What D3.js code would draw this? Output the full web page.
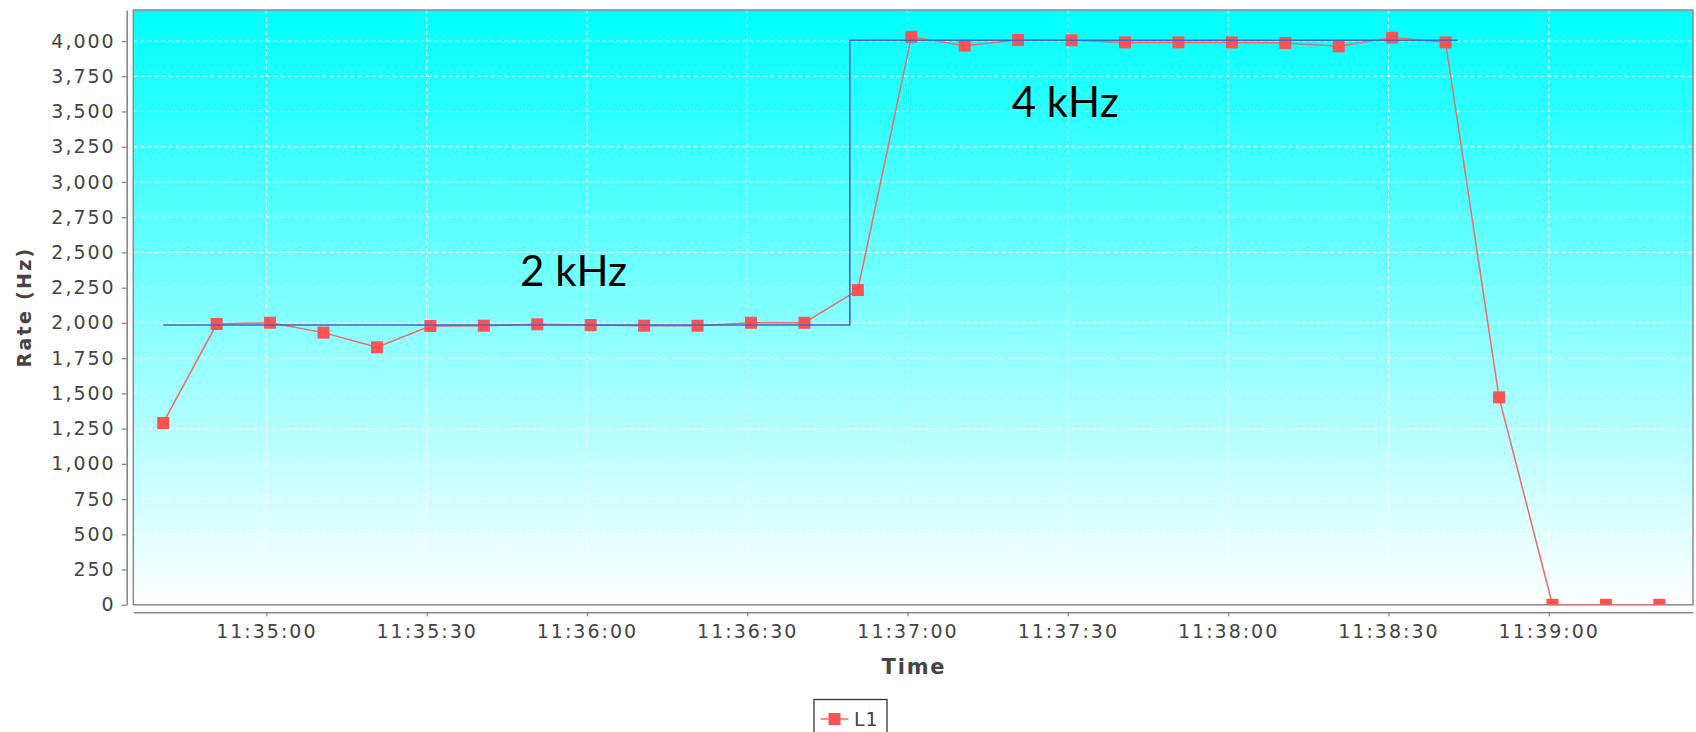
<!DOCTYPE html>
<html>
<head>
<meta charset="utf-8">
<script src="https://cdn.jsdelivr.net/npm/d3@7"></script>
<style>
  html, body { margin: 0; padding: 0; background: #ffffff; }
  svg { display: block; }
  .tick text { font-family: "DejaVu Sans", sans-serif; font-size: 19px; fill: #444; letter-spacing: 2px; }
</style>
</head>
<body>
<svg id="chart" width="1696" height="732"></svg>
<script>
// ---- data ----
const times = ["11:34:40.700","11:34:50.700","11:35:00.700","11:35:10.700","11:35:20.700","11:35:30.700",
  "11:35:40.700","11:35:50.700","11:36:00.700","11:36:10.700","11:36:20.700","11:36:30.700","11:36:40.700",
  "11:36:50.700","11:37:00.700","11:37:10.700","11:37:20.700","11:37:30.700","11:37:40.700","11:37:50.700",
  "11:38:00.700","11:38:10.700","11:38:20.700","11:38:30.700","11:38:40.700","11:38:50.700","11:39:00.700",
  "11:39:10.700","11:39:20.700"];
const rates = [1290,1992,2001,1931,1827,1978,1980,1990,1985,1980,1980,2001,2001,2233,4030,3967,4007,
  4005,3990,3990,3990,3986,3962,4024,3990,1472,0,0,0];
const targetTimes = ["11:34:40.700","11:36:49.200","11:36:49.200","11:38:43.000"];
const targetRates = [1985,1985,4005,4005];
const yTicks = [0,250,500,750,1000,1250,1500,1750,2000,2250,2500,2750,3000,3250,3500,3750,4000];
const xDomain = ["11:34:35.100","11:39:27.000"];
const yDomain = [0,4220];
const annotations = [{text:"2 kHz", t:"11:35:57.500", v:2260}, {text:"4 kHz", t:"11:37:29.500", v:3460}];
const seriesName = "L1";
const xTitle = "Time";
const yTitle = "Rate (Hz)";

// ---- layout ----
const parse = d3.timeParse("%H:%M:%S.%L");
const plot = {left:133.3, right:1693, top:10, bottom:604.8};
const svg = d3.select("#chart");

const x = d3.scaleTime().domain(xDomain.map(parse)).range([plot.left, plot.right]);
const y = d3.scaleLinear().domain(yDomain).range([plot.bottom, plot.top]);

const defs = svg.append("defs");
const grad = defs.append("linearGradient").attr("id","bg").attr("x1",0).attr("y1",0).attr("x2",0).attr("y2",1);
grad.append("stop").attr("offset","0%").attr("stop-color","#00ffff");
grad.append("stop").attr("offset","100%").attr("stop-color","#ffffff");
defs.append("clipPath").attr("id","clip").append("rect")
  .attr("x",plot.left).attr("y",plot.top).attr("width",plot.right-plot.left).attr("height",plot.bottom-plot.top);

// background
svg.append("rect").attr("x",plot.left).attr("y",plot.top)
  .attr("width",plot.right-plot.left).attr("height",plot.bottom-plot.top)
  .attr("fill","url(#bg)");

// grid
const xTickVals = x.ticks(d3.timeSecond.every(30));
const grid = svg.append("g").attr("stroke","#ffffff").attr("stroke-width",1).attr("stroke-dasharray","4,3").attr("opacity",0.9);
grid.selectAll("line.h").data(yTicks).join("line").attr("class","h")
  .attr("x1",plot.left).attr("x2",plot.right).attr("y1",d=>y(d)).attr("y2",d=>y(d));
grid.selectAll("line.v").data(xTickVals).join("line").attr("class","v")
  .attr("y1",plot.top).attr("y2",plot.bottom).attr("x1",d=>x(d)).attr("x2",d=>x(d));

// plot border
svg.append("rect").attr("x",plot.left).attr("y",plot.top)
  .attr("width",plot.right-plot.left).attr("height",plot.bottom-plot.top)
  .attr("fill","none").attr("stroke","#8a8a8a").attr("stroke-width",1.5);

// data series
const pts = times.map((t,i)=>({t:parse(t), v:rates[i]}));
const tpts = targetTimes.map((t,i)=>({t:parse(t), v:targetRates[i]}));
const line = d3.line().x(d=>x(d.t)).y(d=>y(d.v));
const g = svg.append("g").attr("clip-path","url(#clip)");
g.append("path").datum(pts).attr("d",line).attr("fill","none").attr("stroke","#f06868").attr("stroke-width",1.5);
const ms = 12;
g.selectAll("rect.m").data(pts).join("rect").attr("class","m")
  .attr("x",d=>x(d.t)-ms/2).attr("y",d=>y(d.v)-ms/2).attr("width",ms).attr("height",ms)
  .attr("fill","#fb5252");
g.append("path").datum(tpts).attr("d",line).attr("fill","none").attr("stroke","#4a62c8").attr("stroke-width",1.6);

// annotations
svg.selectAll("text.ann").data(annotations).join("text").attr("class","ann")
  .attr("x",d=>x(parse(d.t))).attr("y",d=>y(d.v))
  .attr("text-anchor","middle")
  .attr("font-family","Lato, sans-serif").attr("font-size",42).attr("fill","#000")
  .text(d=>d.text);

// axes
const yAxis = d3.axisLeft(y).tickValues(yTicks).tickFormat(d3.format(",")).tickSize(5).tickSizeOuter(0).tickPadding(6);
const ya = svg.append("g").attr("transform","translate(126.7,0)").call(yAxis);
const xAxis = d3.axisBottom(x).ticks(d3.timeSecond.every(30)).tickFormat(d3.timeFormat("%H:%M:%S")).tickSize(4).tickSizeOuter(0).tickPadding(8);
const xa = svg.append("g").attr("transform","translate(0,612.3)").call(xAxis);
[ya, xa].forEach(a => {
  a.select(".domain").attr("stroke","#888").attr("stroke-width",1.6);
  a.selectAll(".tick line").attr("stroke","#888").attr("stroke-width",1.3);
});

// axis titles
svg.append("text").attr("transform","translate(31,307) rotate(-90)")
  .attr("text-anchor","middle").attr("font-family","DejaVu Sans, sans-serif").attr("font-weight","bold")
  .attr("font-size",19).attr("letter-spacing","2.3px").attr("fill","#444").text(yTitle);
svg.append("text").attr("x",914).attr("y",674)
  .attr("text-anchor","middle").attr("font-family","DejaVu Sans, sans-serif").attr("font-weight","bold")
  .attr("font-size",21).attr("letter-spacing","1.8px").attr("fill","#444").text(xTitle);

// legend
const lg = svg.append("g");
lg.append("rect").attr("x",814).attr("y",699.5).attr("width",73).attr("height",45)
  .attr("fill","#fff").attr("stroke","#333").attr("stroke-width",1.3);
lg.append("line").attr("x1",820.7).attr("x2",848.3).attr("y1",719).attr("y2",719).attr("stroke","#f06868").attr("stroke-width",1.5);
lg.append("rect").attr("x",834.5-6).attr("y",719-6).attr("width",12).attr("height",12).attr("fill","#fb5252");
lg.append("text").attr("x",854).attr("y",726).attr("font-family","DejaVu Sans, sans-serif")
  .attr("font-size",19).attr("letter-spacing","1px").attr("fill","#444").text(seriesName);
</script>
</body>
</html>
